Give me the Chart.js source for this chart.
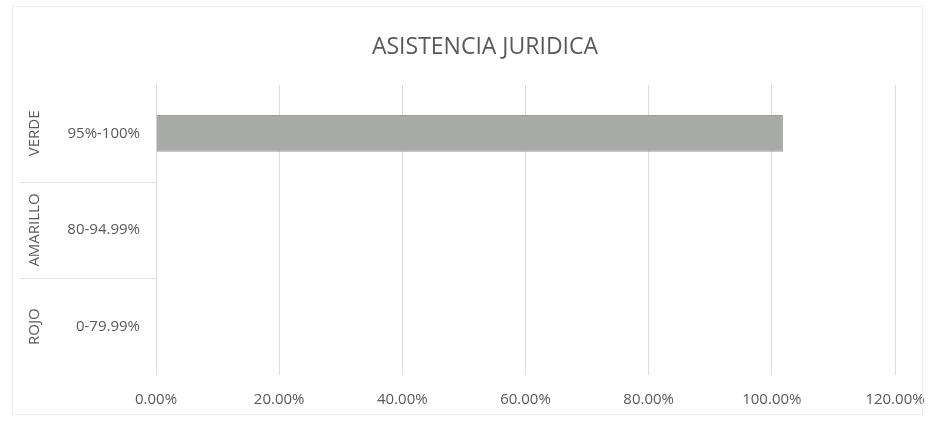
<!DOCTYPE html>
<html lang="es">
<head>
<meta charset="UTF-8">
<title>ASISTENCIA JURIDICA</title>
<script src="https://cdn.jsdelivr.net/npm/chart.js"></script>
<style>
  html, body { margin: 0; padding: 0; background: #fff; }
  #wrap { width: 935px; height: 421px; position: relative; }
</style>
</head>
<body>
<div id="wrap"><canvas id="chart"></canvas></div>
<script>
// data
const title = 'ASISTENCIA JURIDICA'
const groups = ['VERDE', 'AMARILLO', 'ROJO']
const ranges = ['95%-100%', '80-94.99%', '0-79.99%']
const values = [1.018, 0, 0]
const xTicks = [0, 0.2, 0.4, 0.6, 0.8, 1.0, 1.2]

const TEXT = '#595959'
const FONT = "'Open Sans', 'Liberation Sans', sans-serif"

// title, outer group labels (rotated) and separators in the label area
const decorations = {
  id: 'decorations',
  afterDraw(chart) {
    const { ctx, chartArea } = chart
    const y = chart.scales.y
    ctx.save()
    ctx.strokeStyle = '#e3e3e3'
    ctx.lineWidth = 1
    for (let i = 0; i < groups.length - 1; i++) {
      const yy = Math.round((y.getPixelForTick(i) + y.getPixelForTick(i + 1)) / 2) + 0.5
      ctx.beginPath()
      ctx.moveTo(20, yy)
      ctx.lineTo(chartArea.left, yy)
      ctx.stroke()
    }
    // faint chart frame
    ctx.strokeStyle = '#ececec'
    ctx.strokeRect(12.5, 6.5, 910, 408)

    ctx.fillStyle = TEXT
    ctx.textAlign = 'center'
    ctx.textBaseline = 'middle'
    ctx.font = '23px ' + FONT
    ctx.fillText(title, 485, 47)

    ctx.font = '15px ' + FONT
    groups.forEach((g, i) => {
      ctx.save()
      ctx.translate(35, y.getPixelForTick(i))
      ctx.rotate(-Math.PI / 2)
      ctx.fillText(g, 0, 0)
      ctx.restore()
    })
    ctx.restore()
  }
}

new Chart(document.getElementById('chart'), {
  type: 'bar',
  data: {
    labels: ranges,
    datasets: [{
      label: title,
      data: values,
      backgroundColor: '#a7aaa7',
      borderColor: '#9a9d9a',
      borderWidth: 1,
      categoryPercentage: 1,
      barPercentage: 0.38,
    }]
  },
  options: {
    indexAxis: 'y',
    responsive: true,
    maintainAspectRatio: false,
    animation: false,
    layout: { padding: { top: 85, right: 40, bottom: 0, left: 0 } },
    plugins: {
      legend: { display: false },
      tooltip: { enabled: false },
      title: { display: false }
    },
    scales: {
      x: {
        min: 0,
        max: 1.2,
        afterBuildTicks(scale) { scale.ticks = xTicks.map(v => ({ value: v })) },
        afterFit(scale) {
          scale.height = 46
          scale.paddingLeft = 0
          scale.paddingRight = 0
        },
        grid: { color: '#dedede', drawTicks: false },
        border: { display: false },
        ticks: {
          color: TEXT,
          padding: 16,
          font: { family: FONT, size: 15 },
          callback: v => (v * 100).toFixed(2) + '%'
        }
      },
      y: {
        afterFit(scale) { scale.width = 156 },
        grid: { display: false, drawTicks: false },
        border: { display: false },
        ticks: {
          color: TEXT,
          padding: 16,
          font: { family: FONT, size: 15 }
        }
      }
    }
  },
  plugins: [decorations]
})
</script>
</body>
</html>
